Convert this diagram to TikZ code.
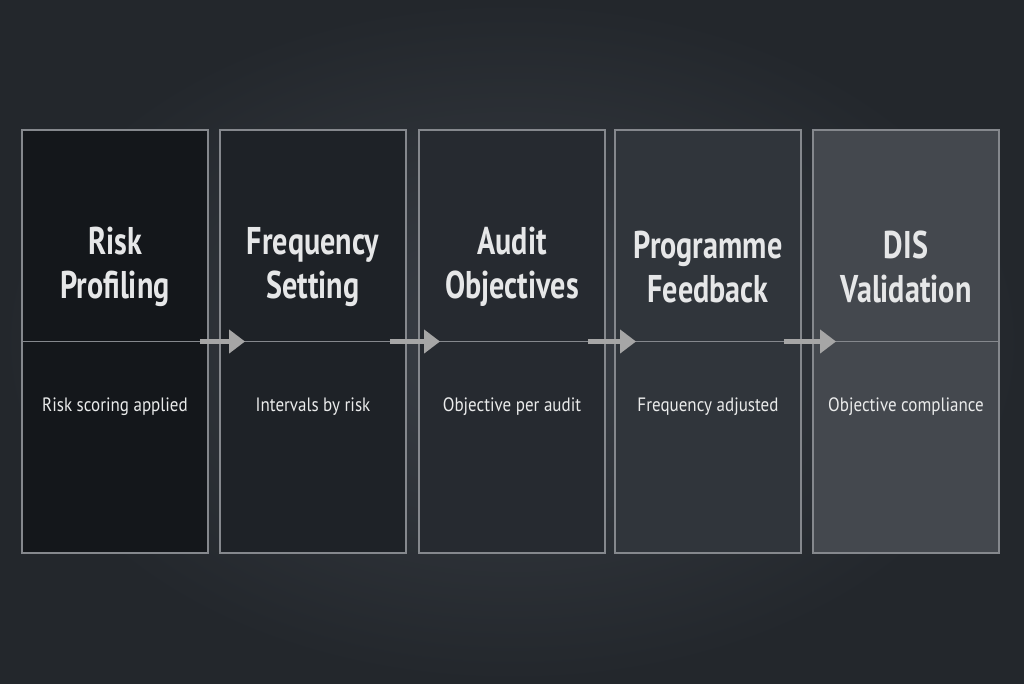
\documentclass[tikz,border=0pt]{standalone}
\usepackage{fontspec}
\setmainfont{PT Sans}
\newfontfamily\titlefont[FakeStretch=0.78]{PT Sans}
\newfontfamily\notefont[FakeStretch=0.88]{PT Sans}
\usetikzlibrary{arrows.meta}
\definecolor{bgdark}{HTML}{23272C}
\definecolor{bglight}{HTML}{3A3F46}
\definecolor{rim}{HTML}{85888D}
\definecolor{ink}{HTML}{E6E7E8}
\definecolor{fillA}{HTML}{14171B}
\definecolor{fillB}{HTML}{1E2227}
\definecolor{fillC}{HTML}{262A30}
\definecolor{fillD}{HTML}{30353B}
\definecolor{fillE}{HTML}{44484E}
\begin{document}
\begin{tikzpicture}[x=0.02cm,y=-0.02cm,
  panel/.style={draw=rim,line width=1.1pt,minimum width=186*0.02cm,minimum height=423*0.02cm,inner sep=0pt},
  title/.style={text=ink,align=center,font=\titlefont\bfseries\fontsize{22}{25}\selectfont},
  note/.style={text=ink!85,font=\notefont\fontsize{11}{13}\selectfont},
  flow/.style={draw=gray!70,line width=3.2pt,-{Triangle[length=9pt,width=13pt]}}]
  % background
  \shade[inner color=bglight,outer color=bgdark] (0,0) rectangle (1024,683);
  \useasboundingbox (0,0) rectangle (1024,683);
  % panels
  \node[panel,fill=fillA] (p1) at (115,341.5) {};
  \node[panel,fill=fillB] (p2) at (313,341.5) {};
  \node[panel,fill=fillC] (p3) at (512,341.5) {};
  \node[panel,fill=fillD] (p4) at (708,341.5) {};
  \node[panel,fill=fillE] (p5) at (906,341.5) {};
  % dividers
  \foreach \p in {p1,p2,p3,p4,p5}
    \draw[rim,line width=0.9pt] (\p.west) -- (\p.east);
  % titles
  \node[title] (t1) at (115,267) {Risk\\Profiling};
  \node[title] (t2) at (313,267) {Frequency\\Setting};
  \node[title] (t3) at (512,267) {Audit\\Objectives};
  \node[title] (t4) at (708,267) {Programme\\Feedback};
  \node[title] (t5) at (906,267) {DIS\\Validation};
  % notes
  \node[note] (n1) at (115,407) {Risk scoring applied};
  \node[note] (n2) at (313,407) {Intervals by risk};
  \node[note] (n3) at (512,407) {Objective per audit};
  \node[note] (n4) at (708,407) {Frequency adjusted};
  \node[note] (n5) at (906,407) {Objective compliance};
  % arrows
  \draw[flow] ([xshift=-9*0.02cm]p1.east) -- ([xshift=26*0.02cm]p2.west);
  \draw[flow] ([xshift=-17*0.02cm]p2.east) -- ([xshift=22*0.02cm]p3.west);
  \draw[flow] ([xshift=-18*0.02cm]p3.east) -- ([xshift=22*0.02cm]p4.west);
  \draw[flow] ([xshift=-18*0.02cm]p4.east) -- ([xshift=24*0.02cm]p5.west);
\end{tikzpicture}
\end{document}
